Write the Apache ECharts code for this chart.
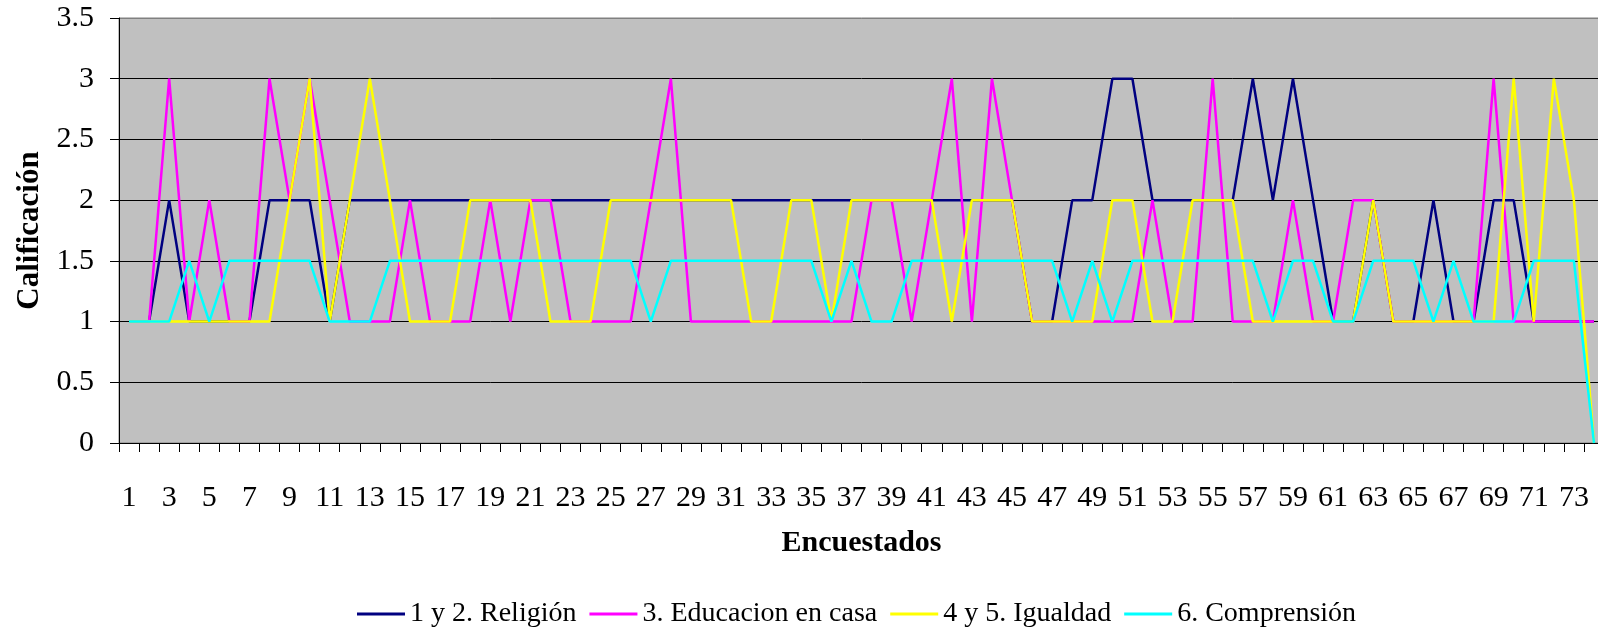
<!DOCTYPE html>
<html>
<head>
<meta charset="utf-8">
<title>Calificación por encuestado</title>
<script src="https://cdn.jsdelivr.net/npm/echarts@6/dist/echarts.min.js"></script>
<style>
  html, body { margin: 0; padding: 0; overflow: hidden; background: #fff; }
  #chart { width: 1722px; height: 629px; }
</style>
</head>
<body>
<div id="chart"></div>
<script>
// encuestados 1..74
const encuestados = ['1', '2', '3', '4', '5', '6', '7', '8', '9', '10',
  '11', '12', '13', '14', '15', '16', '17', '18', '19', '20',
  '21', '22', '23', '24', '25', '26', '27', '28', '29', '30',
  '31', '32', '33', '34', '35', '36', '37', '38', '39', '40',
  '41', '42', '43', '44', '45', '46', '47', '48', '49', '50',
  '51', '52', '53', '54', '55', '56', '57', '58', '59', '60',
  '61', '62', '63', '64', '65', '66', '67', '68', '69', '70',
  '71', '72', '73', '74']

const religion = [1, 1, 2, 1, 1, 1, 1, 2, 2, 2,
  1, 2, 2, 2, 2, 2, 2, 2, 2, 2,
  2, 2, 2, 2, 2, 2, 2, 2, 2, 2,
  2, 2, 2, 2, 2, 2, 2, 2, 2, 2,
  2, 2, 2, 2, 2, 1, 1, 2, 2, 3,
  3, 2, 2, 2, 2, 2, 3, 2, 3, 2,
  1, 1, 2, 1, 1, 2, 1, 1, 2, 2,
  1, 1, 1, 1]

const educacion = [1, 1, 3, 1, 2, 1, 1, 3, 2, 3,
  2, 1, 1, 1, 2, 1, 1, 1, 2, 1,
  2, 2, 1, 1, 1, 1, 2, 3, 1, 1,
  1, 1, 1, 1, 1, 1, 1, 2, 2, 1,
  2, 3, 1, 3, 2, 1, 1, 1, 1, 1,
  1, 2, 1, 1, 3, 1, 1, 1, 2, 1,
  1, 2, 2, 1, 1, 1, 1, 1, 3, 1,
  1, 1, 1, 1]

const igualdad = [1, 1, 1, 1, 1, 1, 1, 1, 2, 3,
  1, 2, 3, 2, 1, 1, 1, 2, 2, 2,
  2, 1, 1, 1, 2, 2, 2, 2, 2, 2,
  2, 1, 1, 2, 2, 1, 2, 2, 2, 2,
  2, 1, 2, 2, 2, 1, 1, 1, 1, 2,
  2, 1, 1, 2, 2, 2, 1, 1, 1, 1,
  1, 1, 2, 1, 1, 1, 1, 1, 1, 3,
  1, 3, 2, 0]

const comprension = [1, 1, 1, 1.5, 1, 1.5, 1.5, 1.5, 1.5, 1.5,
  1, 1, 1, 1.5, 1.5, 1.5, 1.5, 1.5, 1.5, 1.5,
  1.5, 1.5, 1.5, 1.5, 1.5, 1.5, 1, 1.5, 1.5, 1.5,
  1.5, 1.5, 1.5, 1.5, 1.5, 1, 1.5, 1, 1, 1.5,
  1.5, 1.5, 1.5, 1.5, 1.5, 1.5, 1.5, 1, 1.5, 1,
  1.5, 1.5, 1.5, 1.5, 1.5, 1.5, 1.5, 1, 1.5, 1.5,
  1, 1, 1.5, 1.5, 1.5, 1, 1.5, 1, 1, 1,
  1.5, 1.5, 1.5, 0]

const fuente = "'Liberation Serif', 'Times New Roman', serif"

const chart = echarts.init(document.getElementById('chart'))

function serie(name, color, data) {
  return {
    name: name,
    type: 'line',
    data: data,
    symbol: 'none',
    animation: false,
    lineStyle: { color: color, width: 2.5 },
    itemStyle: { color: color }
  }
}

chart.setOption({
  backgroundColor: '#ffffff',
  textStyle: { fontFamily: fuente, color: '#000' },
  grid: {
    left: 119,
    right: 118,
    top: 18,
    bottom: 186,
    show: true,
    backgroundColor: '#c0c0c0',
    borderColor: '#808080',
    borderWidth: 1
  },
  legend: {
    left: 357,
    top: 600,
    padding: 0,
    icon: 'rect',
    itemWidth: 48,
    itemHeight: 3,
    itemGap: 13,
    textStyle: { fontFamily: fuente, fontSize: 28, color: '#000' },
    data: ['1 y 2. Religión', '3. Educacion en casa', '4 y 5. Igualdad', '6. Comprensión']
  },
  xAxis: {
    type: 'category',
    data: encuestados,
    boundaryGap: true,
    name: 'Encuestados',
    nameLocation: 'middle',
    nameGap: 85,
    nameTextStyle: { fontFamily: fuente, fontSize: 30, fontWeight: 'bold', color: '#000' },
    axisLine: { lineStyle: { color: '#000', width: 1 } },
    axisTick: { show: true, interval: 0, length: 9, lineStyle: { color: '#000' } },
    axisLabel: { interval: 1, margin: 40, fontFamily: fuente, fontSize: 30, color: '#000' },
    splitLine: { show: false }
  },
  yAxis: {
    type: 'value',
    min: 0,
    max: 3.5,
    interval: 0.5,
    name: 'Calificación',
    nameLocation: 'middle',
    nameGap: 70,
    nameRotate: 90,
    nameTextStyle: { fontFamily: fuente, fontSize: 31, fontWeight: 'bold', color: '#000' },
    axisLine: { show: true, lineStyle: { color: '#000', width: 1 } },
    axisTick: { show: true, length: 9, lineStyle: { color: '#000' } },
    axisLabel: { margin: 25, fontFamily: fuente, fontSize: 30, color: '#000', padding: [0, 0, 8, 0] },
    splitLine: {
      show: true,
      lineStyle: { color: ['#000', '#000', '#000', '#000', '#000', '#000', '#000', '#808080'], width: 1 }
    }
  },
  series: [
    serie('1 y 2. Religión', '#000080', religion),
    serie('3. Educacion en casa', '#ff00ff', educacion),
    serie('4 y 5. Igualdad', '#ffff00', igualdad),
    serie('6. Comprensión', '#00ffff', comprension)
  ]
})
</script>
</body>
</html>
